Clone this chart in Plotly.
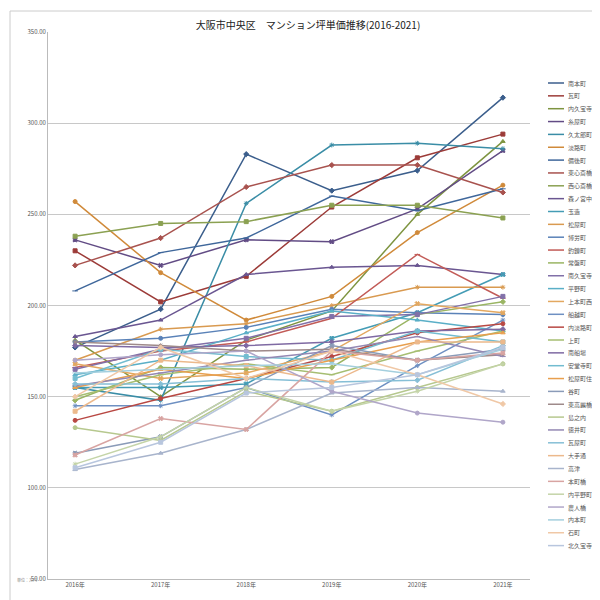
import plotly.graph_objects as go

years = ["2016年", "2017年", "2018年", "2019年", "2020年", "2021年"]
names = ["南本町", "瓦町", "内久宝寺町", "糸屋町", "久太郎町", "淡路町", "備後町", "東心斎橋", "西心斎橋",
         "森ノ宮中央", "玉造", "松屋町", "博労町", "釣鐘町", "常盤町", "南久宝寺町", "平野町", "上本町西",
         "船越町", "内淡路町", "上町", "南船場", "安堂寺町", "松屋町住吉", "谷町", "東高麗橋", "島之内",
         "徳井町", "瓦屋町", "大手通", "高津", "本町橋", "内平野町", "農人橋", "内本町", "石町", "北久宝寺町"]
values = [
    [177, 198, 283, 263, 274, 314],
    [230, 202, 216, 254, 281, 294],
    [181, 150, 181, 197, 250, 290],
    [236, 222, 236, 235, 253, 285],
    [155, 148, 256, 288, 289, 286],
    [257, 218, 192, 205, 240, 266],
    [208, 229, 237, 260, 252, 264],
    [222, 237, 265, 277, 277, 262],
    [238, 245, 246, 255, 255, 248],
    [183, 192, 217, 221, 222, 217],
    [155, 155, 157, 182, 196, 217],
    [170, 187, 190, 200, 210, 210],
    [180, 182, 188, 198, 196, 195],
    [166, 175, 180, 193, 228, 204],
    [148, 166, 165, 166, 195, 202],
    [165, 176, 182, 194, 195, 205],
    [162, 170, 185, 197, 192, 186],
    [168, 160, 163, 175, 201, 196],
    [145, 145, 155, 140, 167, 192],
    [137, 149, 160, 172, 185, 190],
    [150, 162, 168, 162, 175, 186],
    [178, 177, 178, 180, 186, 187],
    [160, 176, 172, 170, 186, 180],
    [155, 165, 160, 170, 180, 185],
    [119, 128, 155, 178, 170, 176],
    [180, 178, 175, 176, 170, 173],
    [133, 126, 153, 142, 155, 168],
    [156, 163, 170, 175, 183, 172],
    [157, 157, 160, 158, 159, 178],
    [142, 170, 167, 158, 180, 180],
    [110, 119, 132, 152, 155, 153],
    [118, 138, 132, 175, 170, 174],
    [113, 128, 155, 142, 153, 168],
    [170, 173, 175, 153, 141, 136],
    [163, 165, 167, 168, 162, 176],
    [150, 177, 160, 175, 162, 146],
    [111, 125, 152, 155, 162, 177],
]
colors = ["#3B5E8C", "#9C3B38", "#7E9440", "#624C85", "#3A8DA6", "#D08A3A",
          "#3F679B", "#A8524E", "#8BA152", "#6A5691", "#449CB5", "#D99A50",
          "#5A82B8", "#C25B57", "#9AB563", "#8170A8", "#5AAFC7", "#E3A860",
          "#6E90C2", "#B84843", "#A6BE72", "#7F6AA3", "#72BCD0", "#E89F4E",
          "#8A9BB8", "#9E8A8A", "#B6C88E", "#9488B3", "#86BFD6", "#ECB98C",
          "#A8B4CC", "#D8A4A2", "#C4D4A8", "#B0A6C9", "#A4CFDE", "#F0C8A6",
          "#B8C6DE"]
symbols = ["diamond", "square", "triangle-up", "x", "asterisk", "circle", "line-ew"]

W, H = 600, 600
L, R, T, B = 40, 78, 24, 29
pw, ph = W - L - R, H - T - B

def px(x):
    return (x - L) / pw

def py(y):
    return (H - B - y) / ph

fig = go.Figure()
shapes = [dict(type="rect", xref="paper", yref="paper", x0=px(2), y0=py(597), x1=px(597), y1=py(3),
               line=dict(color="#ccc", width=1))]
annotations = [dict(text="単位：万円", xref="paper", yref="paper", x=px(7), y=py(577),
                    showarrow=False, font=dict(size=4, color="#888"), xanchor="left")]
for i, (n, v) in enumerate(zip(names, values)):
    fig.add_trace(go.Scatter(
        x=years, y=v, name=n, mode="lines+markers", showlegend=False,
        line=dict(color=colors[i], width=1.5),
        marker=dict(symbol=symbols[i % len(symbols)], size=4, color=colors[i],
                    line=dict(color=colors[i], width=1))))
    yy = 75 + i * 12.85
    shapes.append(dict(type="line", xref="paper", yref="paper", x0=px(540), x1=px(556),
                       y0=py(yy), y1=py(yy), line=dict(color=colors[i], width=1.5)))
    annotations.append(dict(text=n, xref="paper", yref="paper", x=px(558), y=py(yy),
                            xanchor="left", yanchor="middle", showarrow=False,
                            font=dict(size=6, color="#555")))

fig.update_layout(
    width=W, height=H, paper_bgcolor="white", plot_bgcolor="white",
    margin=dict(l=L, r=R, t=T, b=B),
    title=dict(text="大阪市中央区　マンション坪単価推移(2016-2021)", x=0.5, xanchor="center",
               y=0.977, font=dict(size=10, color="#222", family="Noto Sans CJK JP")),
    font=dict(family="Noto Sans CJK JP", size=6, color="#555"),
    xaxis=dict(showgrid=False, showline=True, linecolor="#bbb", ticks="", tickfont=dict(size=6)),
    yaxis=dict(range=[50, 350], dtick=50, tickformat=".2f", showgrid=True, gridcolor="#c8c8c8",
               showline=True, linecolor="#bbb", zeroline=False, tickfont=dict(size=6)),
    showlegend=False,
    shapes=shapes,
    annotations=annotations,
)
fig.write_html("out.html")
